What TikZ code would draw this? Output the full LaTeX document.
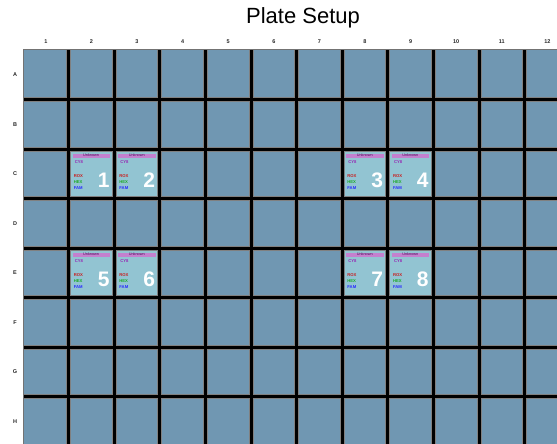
\documentclass[tikz,border=0pt]{standalone}
\usepackage{fontspec}
\setmainfont{Liberation Sans}
\definecolor{wellblue}{RGB}{112,151,178}
\definecolor{welllight}{RGB}{146,196,210}
\definecolor{tagpurple}{RGB}{196,128,206}
\definecolor{dyepurple}{RGB}{150,40,180}
\definecolor{dyered}{RGB}{200,30,30}
\definecolor{dyegreen}{RGB}{30,170,40}
\definecolor{dyeblue}{RGB}{40,40,255}
\tikzset{
  headlabel/.style={font=\fontsize{5.5}{5.5}\selectfont\bfseries, text=black!85},
  dyelabel/.style={font=\fontsize{4.2}{4.2}\selectfont\bfseries, anchor=west, inner sep=0pt},
  wellnum/.style={font=\fontsize{21}{21}\selectfont\bfseries, text=white, inner sep=0pt}
}
\begin{document}
\begin{tikzpicture}[x=1pt,y=-1pt]
    \useasboundingbox (0,0) rectangle (557,444);
    \clip (0,0) rectangle (557,444);

    % Title
    \node (title) at (303,18) {\fontsize{22}{22}\selectfont Plate Setup};

    % Plate
    \fill[wellblue] (23,50) rectangle (580,460);
    \foreach \c in {1,...,12} {
        \node[headlabel] (col\c) at ({23+45.6*(\c-0.5)},42) {\c};
    }
    \foreach \r [count=\i] in {A,B,C,D,E,F,G,H} {
        \node[headlabel] (row\r) at (15,{50+49.5*(\i-0.5)}) {\r};
    }

    % Filled wells
    \foreach \c/\i/\n in {2/3/1,3/3/2,8/3/3,9/3/4,2/5/5,3/5/6,8/5/7,9/5/8} {
        \pgfmathsetmacro{\xa}{23+45.6*(\c-1)}
        \pgfmathsetmacro{\ya}{50+49.5*(\i-1)}
        \fill[welllight] (\xa,\ya) rectangle ++(45.6,49.5);
        \fill[tagpurple] (\xa+4,\ya+4.5) rectangle (\xa+41.5,\ya+8.5);
        \node[font=\fontsize{3.8}{3.8}\selectfont, text=dyepurple!50!black, inner sep=0pt]
            (tag\n) at (\xa+22.5,\ya+6.5) {Unknown};
        \node[dyelabel, text=dyepurple] (cy\n) at (\xa+6,\ya+13) {CY8};
        \node[dyelabel, text=dyered] (rox\n) at (\xa+5,\ya+27) {ROX};
        \node[dyelabel, text=dyegreen] (hex\n) at (\xa+5,\ya+33) {HEX};
        \node[dyelabel, text=dyeblue] (fam\n) at (\xa+5,\ya+39) {FAM};
        \node[wellnum] (num\n) at (\xa+35,\ya+31) {\n};
    }

    % Grid
    \foreach \c in {1,...,12} {
        \draw[black!50, line width=5pt] ({23+45.6*\c},50) -- ({23+45.6*\c},460);
    }
    \foreach \i in {1,...,8} {
        \draw[black!50, line width=5pt] (23,{50+49.5*\i}) -- (580,{50+49.5*\i});
    }
    \foreach \c in {1,...,12} {
        \draw[black, line width=3pt] ({23+45.6*\c},50) -- ({23+45.6*\c},460);
    }
    \foreach \i in {1,...,8} {
        \draw[black, line width=3pt] (23,{50+49.5*\i}) -- (580,{50+49.5*\i});
    }
    \draw[black!55, line width=1pt] (23,460) -- (23,50) -- (580,50);
\end{tikzpicture}
\end{document}
